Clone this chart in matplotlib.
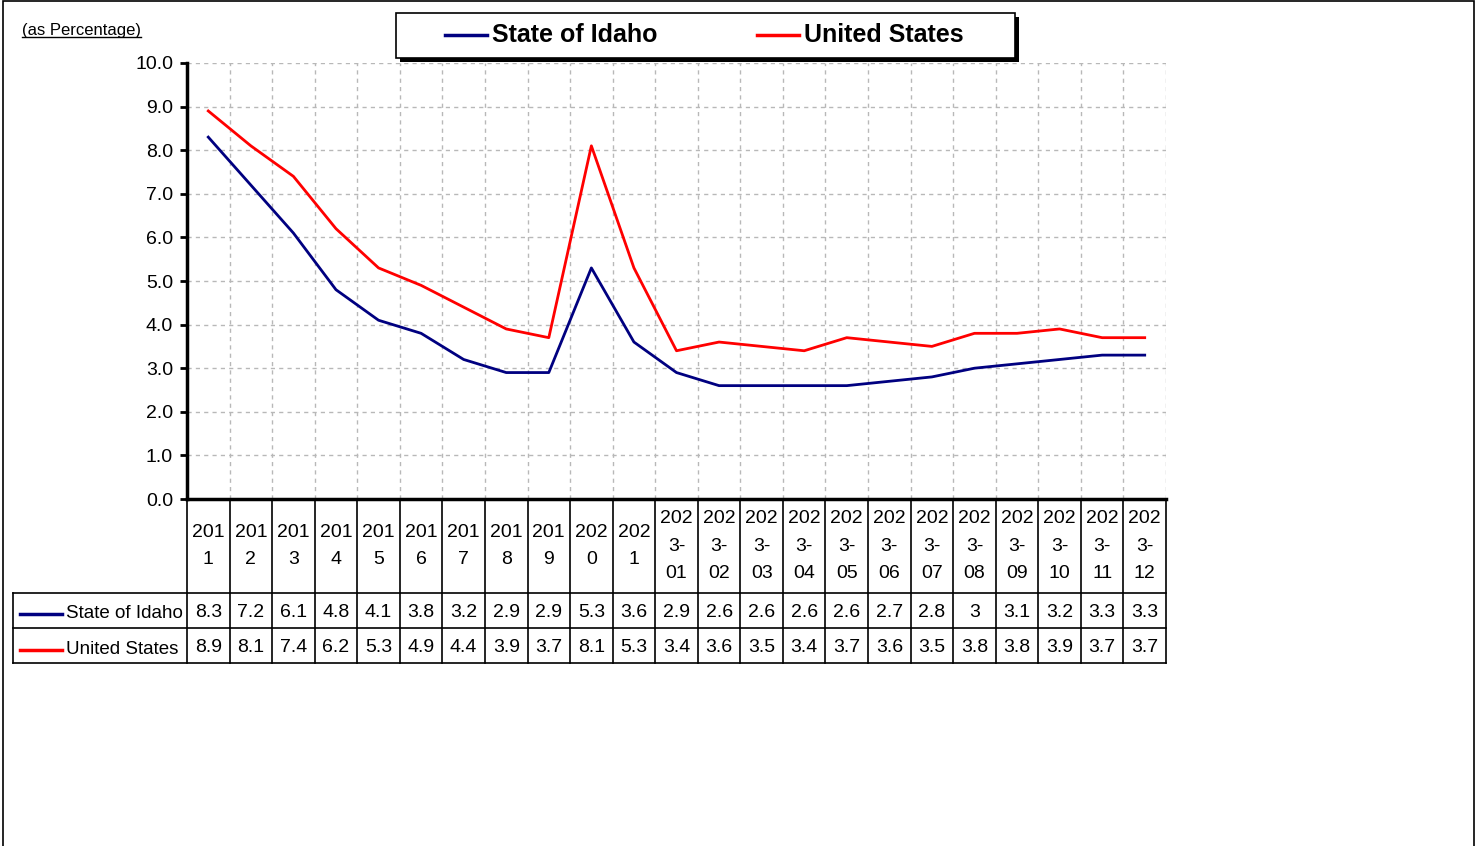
import matplotlib
matplotlib.use("Agg")
import matplotlib.pyplot as plt
from matplotlib.transforms import blended_transform_factory
from matplotlib.lines import Line2D
from matplotlib.patches import Rectangle

categories = ["2011", "2012", "2013", "2014", "2015", "2016", "2017", "2018", "2019",
              "2020", "2021", "2023-01", "2023-02", "2023-03", "2023-04", "2023-05",
              "2023-06", "2023-07", "2023-08", "2023-09", "2023-10", "2023-11", "2023-12"]
idaho = [8.3, 7.2, 6.1, 4.8, 4.1, 3.8, 3.2, 2.9, 2.9, 5.3, 3.6,
         2.9, 2.6, 2.6, 2.6, 2.6, 2.7, 2.8, 3.0, 3.1, 3.2, 3.3, 3.3]
us = [8.9, 8.1, 7.4, 6.2, 5.3, 4.9, 4.4, 3.9, 3.7, 8.1, 5.3,
      3.4, 3.6, 3.5, 3.4, 3.7, 3.6, 3.5, 3.8, 3.8, 3.9, 3.7, 3.7]
idaho_labels = ["8.3", "7.2", "6.1", "4.8", "4.1", "3.8", "3.2", "2.9", "2.9", "5.3", "3.6",
                "2.9", "2.6", "2.6", "2.6", "2.6", "2.7", "2.8", "3", "3.1", "3.2", "3.3", "3.3"]
us_labels = ["8.9", "8.1", "7.4", "6.2", "5.3", "4.9", "4.4", "3.9", "3.7", "8.1", "5.3",
             "3.4", "3.6", "3.5", "3.4", "3.7", "3.6", "3.5", "3.8", "3.8", "3.9", "3.7", "3.7"]
series_names = ["State of Idaho", "United States"]
colors = ["#000080", "#FF0000"]
yticks = [0, 1, 2, 3, 4, 5, 6, 7, 8, 9, 10]

W, H = 1479, 846
FONT = "Liberation Sans"
plt.rcParams['font.family'] = [FONT, 'DejaVu Sans']
FS = 14

fig = plt.figure(figsize=(W / 100, H / 100), dpi=100)

def fx(px):
    return px / W

def fy(py):
    return 1 - py / H

ax_l, ax_r, ax_t, ax_b = 187, 1166, 63, 499
ax = fig.add_axes([fx(ax_l), fy(ax_b), fx(ax_r) - fx(ax_l), fy(ax_t) - fy(ax_b)])

n = len(categories)
x = list(range(n))
ax.plot(x, idaho, color=colors[0], lw=2.0)
ax.plot(x, us, color=colors[1], lw=2.0)

ax.set_xlim(-0.5, n - 0.5)
ax.set_ylim(0, 10)
ax.set_yticks(yticks)
ax.set_yticklabels([f"{v:.1f}" for v in yticks], fontsize=FS)
ax.set_xticks([])
ax.set_xticks([i + 0.5 for i in range(n)], minor=True)
ax.tick_params(axis='x', which='both', length=0, labelbottom=False)
ax.tick_params(axis='y', direction='out', length=5, width=2, pad=5)
ax.grid(axis='y', which='major', color='#b8b8b8', linestyle=(0, (3, 3)), lw=1)
ax.grid(axis='x', which='minor', color='#b8b8b8', linestyle=(0, (3, 3)), lw=1)
for s in ['top', 'right']:
    ax.spines[s].set_visible(False)
ax.spines['left'].set_linewidth(2.5)
ax.spines['bottom'].set_linewidth(2.5)

# Table
tr = blended_transform_factory(ax.transData, fig.transFigure)
tbl_top, hdr_bot, row1_bot, row2_bot = 499, 593, 628, 663
lbl_left = 13
for i in range(n + 1):
    xb = i - 0.5
    fig.add_artist(Line2D([xb, xb], [fy(tbl_top), fy(row2_bot)], transform=tr,
                          color='black', lw=1.2))
for yy in [hdr_bot, row1_bot, row2_bot]:
    fig.add_artist(Line2D([fx(lbl_left), fx(ax_r)], [fy(yy), fy(yy)],
                          transform=fig.transFigure, color='black', lw=1.2))
fig.add_artist(Line2D([fx(lbl_left), fx(lbl_left)], [fy(hdr_bot), fy(row2_bot)],
                      transform=fig.transFigure, color='black', lw=1.2))

def wrap(lab):
    if '-' in lab:
        yr, mo = lab.split('-')
        return f"{yr[:3]}\n{yr[3:]}-\n{mo}"
    return f"{lab[:3]}\n{lab[3:]}"

for i, lab in enumerate(categories):
    fig.text(i, fy(546), wrap(lab), transform=tr, ha='center', va='center',
             fontsize=FS, linespacing=1.8)
    fig.text(i, fy(612), idaho_labels[i], transform=tr, ha='center', va='center', fontsize=FS)
    fig.text(i, fy(647), us_labels[i], transform=tr, ha='center', va='center', fontsize=FS)

for name, c, yy in zip(series_names, colors, [614, 650]):
    fig.add_artist(Line2D([fx(20), fx(62)], [fy(yy), fy(yy)], transform=fig.transFigure,
                          color=c, lw=2.5))
    fig.text(fx(66), fy(yy - 1), name, ha='left', va='center', fontsize=13.5)

# Legend (drawn as a box with shadow)
lx0, lx1, ly0, ly1 = 396, 1015, 13, 58
fig.add_artist(Rectangle((fx(lx0 + 4), fy(ly1 + 4)), fx(lx1) - fx(lx0), fy(ly0) - fy(ly1),
                         transform=fig.transFigure, facecolor='black', edgecolor='none'))
fig.add_artist(Rectangle((fx(lx0), fy(ly1)), fx(lx1) - fx(lx0), fy(ly0) - fy(ly1),
                         transform=fig.transFigure, facecolor='white', edgecolor='black', lw=1.2))
for name, c, hx in zip(series_names, colors, [445, 757]):
    fig.add_artist(Line2D([fx(hx), fx(hx + 42)], [fy(35), fy(35)], transform=fig.transFigure,
                          color=c, lw=2.5))
    fig.text(fx(hx + 47), fy(35), name, ha='left', va='center', fontsize=18,
             fontweight='bold', family=FONT)

# Unit label with underline
t = fig.text(fx(22), fy(31), "(as Percentage)", ha='left', va='center', fontsize=12)
fig.canvas.draw()
bb = t.get_window_extent()
fig.add_artist(Line2D([bb.x0 / W, bb.x1 / W], [(bb.y0 + 1) / H, (bb.y0 + 1) / H],
                      transform=fig.transFigure, color='black', lw=1))

# Figure border
fig.add_artist(Rectangle((fx(3), -0.01), fx(1474) - fx(3), fy(1) + 0.01,
                         transform=fig.transFigure, fill=False, edgecolor='black', lw=1.2))

fig.savefig("out.png", dpi=100)
